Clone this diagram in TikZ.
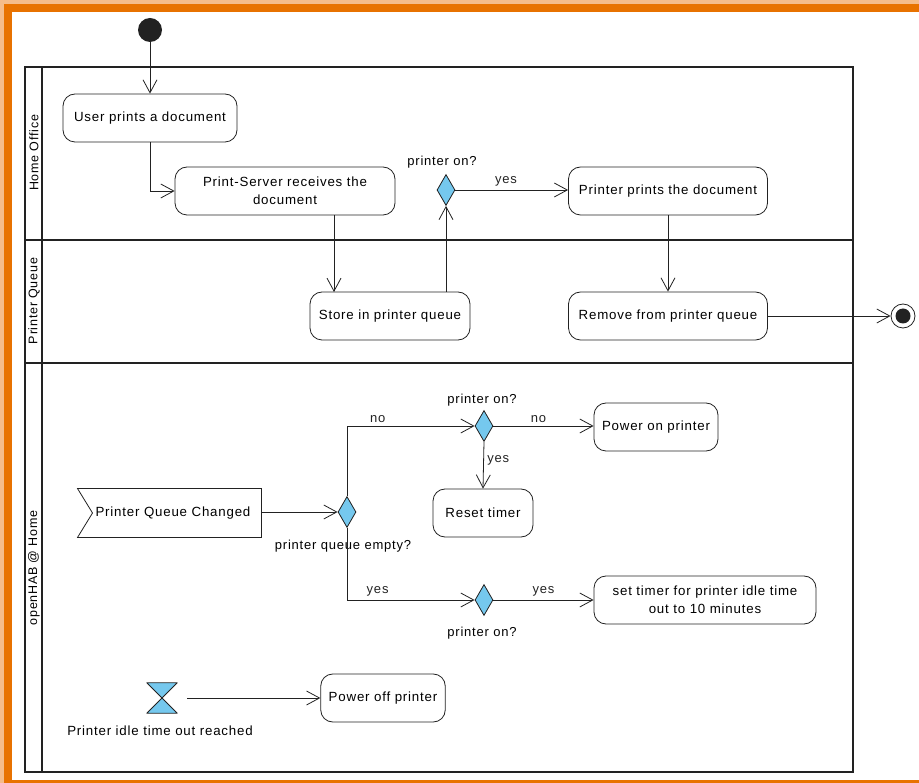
\documentclass[tikz,border=0pt]{standalone}
\usepackage{fontspec}
\setmainfont[LetterSpace=6]{Liberation Sans}
\usetikzlibrary{arrows.meta,shapes.geometric,shapes.symbols}

\definecolor{frameorange}{HTML}{E87200}
\definecolor{framelight}{HTML}{F5BC8A}
\definecolor{decisionblue}{HTML}{75C8EE}
\definecolor{linegray}{HTML}{222222}

\tikzstyle{action} = [rectangle, rounded corners=12pt, minimum height=48pt, text centered, draw=linegray, line width=0.8pt, fill=white, inner xsep=8pt]
\tikzstyle{decision} = [diamond, minimum width=18pt, minimum height=31pt, inner sep=0pt, draw=linegray, line width=0.8pt, fill=decisionblue]
\tikzstyle{signal in} = [signal, signal from=west, signal to=nowhere, signal pointer angle=117, minimum width=184pt, minimum height=49pt, draw=linegray, line width=0.8pt, fill=white]
\tikzstyle{pool} = [draw=linegray, line width=1.8pt]
\tikzstyle{lane} = [rotate=90, font=\fontsize{12.5}{14}\selectfont]
\tikzstyle{guard} = [font=\fontsize{13}{14}\selectfont]
\tikzstyle{arrow} = [linegray, line width=0.8pt, -{Straight Barb[length=13pt,width=14pt,line width=0.8pt]}]

\begin{document}
\begin{tikzpicture}[x=1pt, y=-1pt, font=\fontsize{13.3}{18}\selectfont]

\useasboundingbox (0,0) rectangle (919,783);

% frame
\fill[framelight] (0,0) rectangle (919,4);
\fill[framelight] (0,0) rectangle (4,783);
\fill[frameorange] (4,4) rectangle (919,12);
\fill[frameorange] (4,4) rectangle (12,783);
\fill[frameorange] (12,780) rectangle (919,783);

% swimlanes
\draw[pool] (25,67) rectangle (853,772);
\draw[pool] (42,67) -- (42,772);
\draw[pool] (25,240) -- (853,240);
\draw[pool] (25,363) -- (853,363);
\node[lane] (laneoffice) at (34,153) {Home Office};
\node[lane] (lanequeue) at (34,301) {Printer Queue};
\node[lane] (lanehome) at (34,568) {openHAB @ Home};

% Home Office
\node (start) [circle, fill=linegray, minimum size=24pt, inner sep=0pt] at (150,30) {};
\node (userprint) [action, minimum width=174pt] at (150,118) {User prints a document};
\node (receive) [action, minimum width=220pt, align=center] at (285,191) {Print-Server receives the\\document};
\node (check) [decision] at (446,190) {};
\node (checklabel) [guard] at (442,162) {printer on?};
\node (printing) [action, minimum width=199pt] at (668,191) {Printer prints the document};

% Printer Queue
\node (store) [action, minimum width=160pt] at (390,316) {Store in printer queue};
\node (remove) [action, minimum width=199pt] at (668,316) {Remove from printer queue};
\node (stop) [circle, draw=linegray, line width=0.8pt, fill=white, minimum size=24pt, inner sep=0pt] at (903,316) {};
\node (stopdot) [circle, fill=linegray, minimum size=15pt, inner sep=0pt] at (903,316) {};

% openHAB @ Home
\node (qchanged) [signal in] at (177,513) {\hspace*{-8pt}Printer Queue Changed};
\node (empty) [decision] at (347,512) {};
\node (emptylabel) [guard] at (343,546) {printer queue empty?};
\node (onno) [decision] at (484,426) {};
\node (onnolabel) [guard] at (482,400) {printer on?};
\node (poweron) [action, minimum width=124pt] at (656,427) {Power on printer};
\node (reset) [action, minimum width=100pt] at (483,513) {Reset timer};
\node (onyes) [decision] at (484,600) {};
\node (onyeslabel) [guard] at (482,633) {printer on?};
\node (settimer) [action, minimum width=222pt, align=center] at (705,600) {set timer for printer idle time\\out to 10 minutes};
\node (timer) [minimum width=30pt, minimum height=30pt, inner sep=0pt] at (162,698) {};
\node (timerlabel) at (160,731) {Printer idle time out reached};
\node (poweroff) [action, minimum width=121pt] at (383,698) {Power off printer};

\filldraw[fill=decisionblue, draw=linegray, line width=0.8pt, line join=round]
  (timer.north west) -- (timer.north east) -- (timer.south west) -- (timer.south east) -- cycle;

% flows
\draw [arrow] (start) -- (userprint);
\draw [arrow] (userprint.south) |- (receive.west);
\draw [arrow] (334,215) -- (334,292);
\draw [arrow] (store.north -| check.south) -- (check.south);
\draw [arrow] (check.east) -- node[guard, above, pos=0.45] {yes} (check.east -| printing.west);
\draw [arrow] (printing) -- (remove);
\draw [arrow] (remove.east) -- (stop.west);
\draw [arrow] (qchanged.east |- empty.west) -- (empty.west);
\draw [arrow] (empty.north) |- node[guard, above, pos=0.62] {no} (onno.west);
\draw [arrow] (onno.east) -- node[guard, above, pos=0.45] {no} (onno.east -| poweron.west);
\draw [arrow] (onno.south) -- node[guard, right, pos=0.4] {yes} (reset.north);
\draw [arrow] (empty.south) |- node[guard, above, pos=0.62] {yes} (onyes.west);
\draw [arrow] (onyes.east) -- node[guard, above, pos=0.5] {yes} (onyes.east -| settimer.west);
\draw [arrow] ([xshift=10pt]timer.east) -- (poweroff.west);

\end{tikzpicture}
\end{document}
